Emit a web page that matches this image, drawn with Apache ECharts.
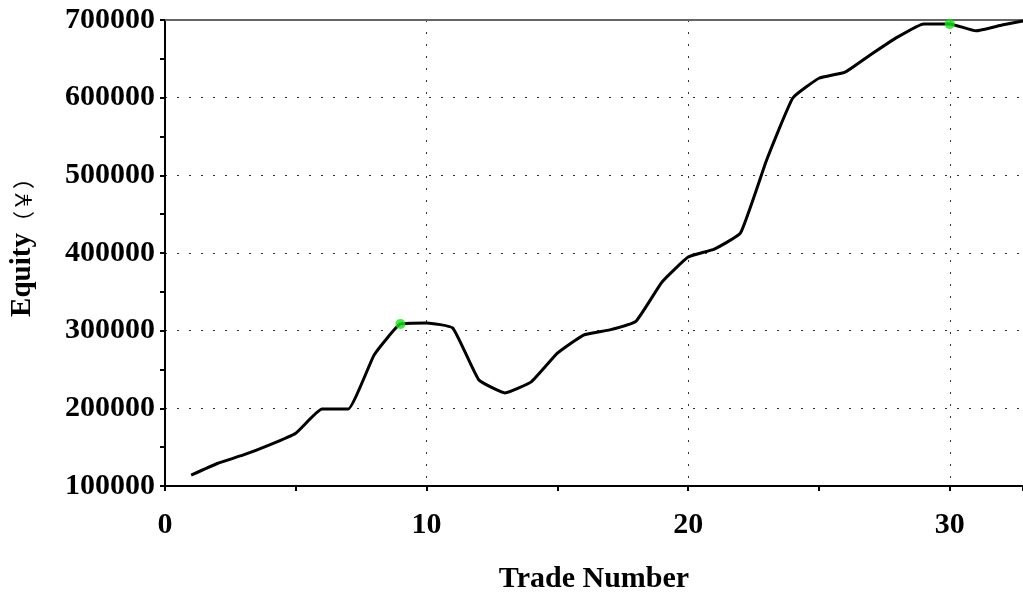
<!DOCTYPE html>
<html lang="en">
<head>
<meta charset="UTF-8">
<title>Equity Curve</title>
<script src="https://cdn.jsdelivr.net/npm/echarts@6/dist/echarts.min.js"></script>
<style>
html, body { margin: 0; padding: 0; background: #fff; }
#chart { width: 1023px; height: 593px; }
</style>
</head>
<body>
<div id="chart"></div>
<script>
const tradeNumbers = [1, 2, 3, 4, 5, 6, 7, 8, 9, 10, 11, 12, 13, 14, 15, 16, 17, 18, 19, 20, 21, 22, 23, 24, 25, 26, 27, 28, 29, 30, 31, 32, 33];
const equity = [114000, 129000, 140000, 153000, 168000, 199000, 199000, 269000, 308600, 310000, 303500, 236500, 219800, 234000, 271000, 294400, 301000, 312000, 362700, 394900, 405000, 425700, 519700, 599600, 625000, 633000, 656000, 678000, 695000, 695000, 686000, 693500, 700000];
// trades where the equity made a new high (green dots)
const highTrades = [9, 30];
const highEquity = [308600, 695000];

const serif = "'Liberation Serif', 'Times New Roman', serif";
const dotted = { color: '#333', width: 1, type: [2, 10] };

const chart = echarts.init(document.getElementById('chart'));

chart.setOption({
animation: false,
grid: { left: 165, top: 20, right: 0, bottom: 107, containLabel: false, outerBoundsMode: 'none' },
xAxis: [{
type: 'value',
min: 0,
max: 32.8,
interval: 10,
name: 'Trade Number',
nameLocation: 'middle',
nameGap: 78,
nameTextStyle: { fontFamily: serif, fontWeight: 'bold', fontSize: 30, color: '#000' },
axisLine: { lineStyle: { color: '#000', width: 2 } },
axisTick: { length: 5, lineStyle: { color: '#000', width: 2 } },
minorTick: { show: true, splitNumber: 2, length: 5, lineStyle: { color: '#000', width: 2 } },
axisLabel: { margin: 24, fontFamily: serif, fontWeight: 'bold', fontSize: 30, color: '#000', showMaxLabel: false },
splitLine: { show: true, lineStyle: dotted }
}, {
type: 'value',
position: 'top',
min: 0,
max: 32.8,
interval: 10,
axisLine: { lineStyle: { color: '#666', width: 2 } },
axisTick: { show: false },
axisLabel: { show: false },
splitLine: { show: false }
}],
yAxis: {
type: 'value',
min: 100000,
max: 700000,
interval: 100000,
name: '{a|Equity}{b|（￥）}',
nameLocation: 'middle',
nameGap: 128,
nameTextStyle: {
padding: [0, 0, 0, 22],
rich: {
a: { fontFamily: serif, fontWeight: 'bold', fontSize: 29, color: '#000' },
b: { fontFamily: "'Noto Sans CJK JP', sans-serif", fontSize: 22, color: '#000' }
}
},
axisLine: { show: true, lineStyle: { color: '#000', width: 2 } },
axisTick: { show: true, length: 5, lineStyle: { color: '#000', width: 2 } },
minorTick: { show: true, splitNumber: 2, length: 5, lineStyle: { color: '#000', width: 2 } },
axisLabel: { margin: 10, fontFamily: serif, fontWeight: 'bold', fontSize: 30, color: '#000', formatter: v => String(v) },
splitLine: { show: true, lineStyle: dotted }
},
series: [{
type: 'line',
data: tradeNumbers.map((t, i) => [t, equity[i]]),
smooth: 0.12,
symbol: 'none',
clip: true,
lineStyle: { color: '#000', width: 3 },
z: 3
}, {
type: 'scatter',
data: highTrades.map((t, i) => [t, highEquity[i]]),
symbolSize: 10,
itemStyle: { color: '#11e611' },
z: 4
}]
});
</script>
</body>
</html>
